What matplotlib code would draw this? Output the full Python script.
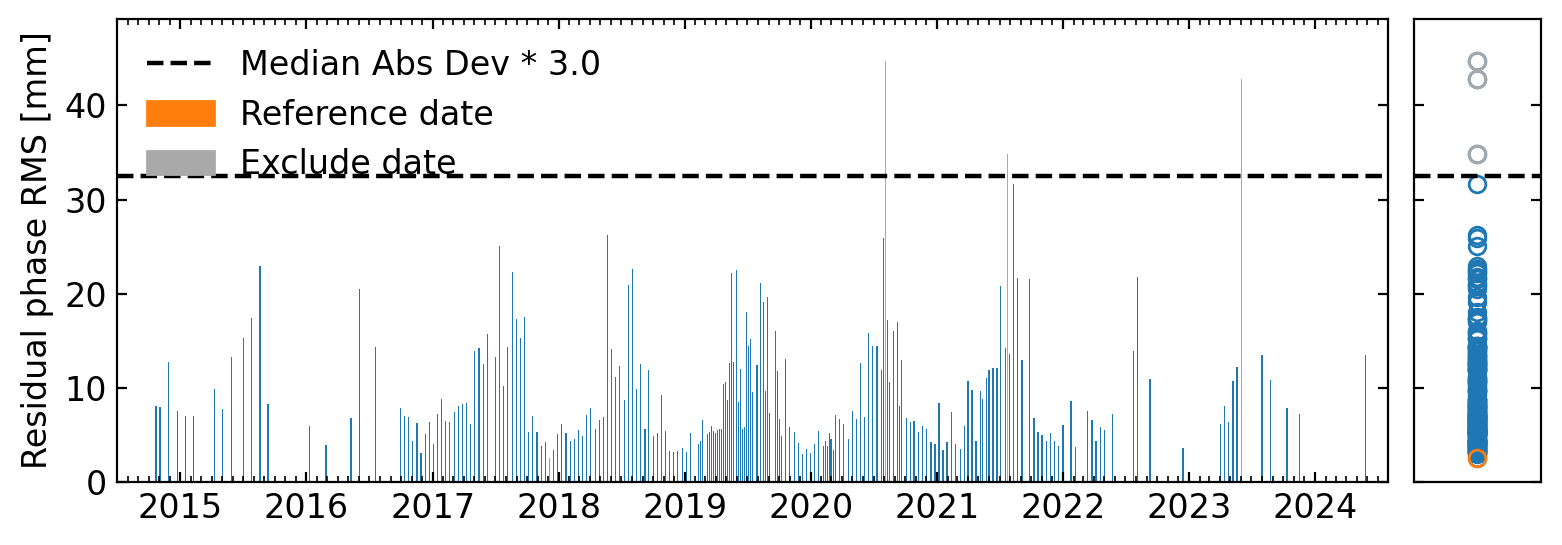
import datetime as dt
import numpy as np
import matplotlib
matplotlib.use('Agg')
import matplotlib.pyplot as plt
import matplotlib.dates as mdates
from matplotlib.lines import Line2D
from matplotlib.patches import Patch
from mpl_toolkits.axes_grid1 import make_axes_locatable

# acquisition dates in decimal years
date_years = [
    2014.807, 2014.838, 2014.907, 2014.975,
    2015.040, 2015.103, 2015.269, 2015.335, 2015.404, 2015.499, 2015.565, 2015.631, 2015.694,
    2016.024, 2016.154, 2016.351, 2016.419, 2016.548, 2016.745, 2016.776, 2016.808, 2016.839,
    2016.874, 2016.906, 2016.942, 2016.974,
    2017.005, 2017.036, 2017.068, 2017.103, 2017.135, 2017.171, 2017.203, 2017.235, 2017.266,
    2017.301, 2017.333, 2017.367, 2017.401, 2017.433, 2017.496, 2017.531, 2017.563, 2017.594,
    2017.631, 2017.663, 2017.694, 2017.726, 2017.761, 2017.792, 2017.826, 2017.861, 2017.894,
    2017.925, 2017.957, 2017.992,
    2018.024, 2018.058, 2018.092, 2018.124, 2018.155, 2018.187, 2018.222, 2018.254, 2018.290,
    2018.322, 2018.354, 2018.386, 2018.421, 2018.452, 2018.484, 2018.521, 2018.552, 2018.584,
    2018.616, 2018.651, 2018.683, 2018.714, 2018.751, 2018.783, 2018.814, 2018.846, 2018.881,
    2018.913, 2018.944, 2018.981,
    2019.013, 2019.044, 2019.111, 2019.127, 2019.143, 2019.179, 2019.195, 2019.211, 2019.227,
    2019.243, 2019.259, 2019.275, 2019.290, 2019.306, 2019.322, 2019.338, 2019.357, 2019.373,
    2019.389, 2019.410, 2019.425, 2019.441, 2019.457, 2019.473, 2019.489, 2019.505, 2019.521,
    2019.537, 2019.574, 2019.603, 2019.624, 2019.640, 2019.656, 2019.671, 2019.719, 2019.735,
    2019.751, 2019.770, 2019.802, 2019.833, 2019.870, 2019.902, 2019.933, 2019.965,
    2020.000, 2020.032, 2020.063, 2020.099, 2020.115, 2020.131, 2020.147, 2020.162, 2020.178,
    2020.194, 2020.229, 2020.261, 2020.297, 2020.329, 2020.360, 2020.392, 2020.427, 2020.458,
    2020.490, 2020.526, 2020.558, 2020.574, 2020.590, 2020.606, 2020.622, 2020.656, 2020.688,
    2020.704, 2020.720, 2020.756, 2020.788, 2020.819, 2020.851, 2020.886, 2020.918, 2020.951,
    2020.985,
    2021.016, 2021.047, 2021.079, 2021.116, 2021.148, 2021.185, 2021.217, 2021.245, 2021.277,
    2021.309, 2021.343, 2021.359, 2021.393, 2021.411, 2021.443, 2021.475, 2021.506, 2021.541,
    2021.557, 2021.573, 2021.605, 2021.641, 2021.673, 2021.736, 2021.771, 2021.802, 2021.834,
    2021.870, 2021.902, 2021.934, 2021.965,
    2022.000, 2022.063, 2022.100, 2022.195, 2022.230, 2022.262, 2022.298, 2022.330, 2022.394,
    2022.560, 2022.592, 2022.690, 2022.952,
    2023.251, 2023.282, 2023.314, 2023.349, 2023.381, 2023.415, 2023.579, 2023.648, 2023.778,
    2023.878,
    2024.402,
]

# residual phase RMS [mm]
rms = [
    8.06, 7.95, 12.72, 7.53,
    7.0, 7.0, 9.86, 7.74, 13.25, 15.26, 17.4, 22.9, 8.27,
    5.94, 3.92, 6.78, 20.46, 14.3, 7.84, 7.0, 6.9, 4.35,
    6.25, 3.07, 5.09, 6.36,
    4.03, 7.2, 8.8, 6.47, 6.36, 7.42, 8.06, 8.27, 8.37,
    6.15, 13.9, 14.2, 12.5, 15.7, 13.25, 25.1, 10.2, 14.3,
    22.3, 17.3, 15.3, 17.5, 5.3, 7.0, 5.3, 3.8, 4.24,
    2.54, 3.39, 5.09,
    6.15, 5.19, 4.35, 4.56, 5.51, 4.88, 7.1, 7.84, 5.62,
    6.57, 6.9, 26.2, 14.1, 11.13, 12.3, 8.7, 20.9, 22.6,
    9.86, 12.5, 5.62, 11.87, 4.88, 5.19, 9.22, 5.4, 3.29,
    3.18, 3.29, 3.6,
    3.18, 5.19, 4.03, 4.35, 6.57, 5.09, 5.3, 5.94, 5.4,
    5.19, 5.51, 5.62, 5.62, 10.39, 10.6, 8.7, 12.6, 22.15,
    12.72, 22.5, 8.5, 12.0, 5.62, 5.83, 18.1, 14.4, 15.2,
    9.54, 12.4, 21.1, 19.1, 9.65, 19.7, 7.31, 16.0, 11.77,
    6.68, 4.88, 13.1, 5.83, 5.3, 4.13, 2.97, 3.5,
    3.07, 4.03, 5.4, 3.82, 4.35, 3.82, 5.19, 4.56, 3.39,
    7.1, 6.68, 6.15, 4.56, 7.53, 6.68, 12.6, 6.9, 15.8,
    14.4, 14.4, 11.87, 25.9, 44.7, 17.2, 10.6, 16.0, 16.96,
    8.06, 12.93, 6.78, 6.36, 6.47, 5.3, 5.94, 5.62, 4.24,
    4.03,
    8.37, 3.39, 4.24, 7.42, 4.03, 3.5, 5.94, 10.7, 9.75,
    4.35, 9.65, 8.8, 11.0, 11.87, 12.1, 12.1, 20.8, 14.2,
    34.8, 13.57, 31.6, 21.7, 12.93, 21.6, 6.78, 5.3, 4.98,
    4.35, 5.19, 4.35, 3.82,
    6.04, 8.59, 3.71, 7.53, 6.57, 4.35, 5.83, 5.51, 7.2,
    13.9, 21.8, 10.9, 3.6,
    6.15, 8.06, 6.36, 10.7, 12.2, 42.8, 13.46, 10.8, 7.84,
    7.2,
    13.46,
]

cutoff = 3.0
rms_threshold = 32.5
font_size = 12


def year2date(t):
    y = int(t)
    t0 = dt.datetime(y, 1, 1)
    t1 = dt.datetime(y + 1, 1, 1)
    return t0 + (t1 - t0) * (t - y)


dates = np.array([year2date(t) for t in date_years])
rms = np.array(rms)
bar_width = 4  # days

ref_idx = np.argmin(rms)
ex_idx = rms > rms_threshold

fig = plt.figure(figsize=(7.81, 2.725), dpi=200)
# box holds main axes + pad + side axes
ax = fig.add_axes([0.0749, 0.1156, 0.9117, 0.8495])

ax.bar(dates, rms, bar_width, color='C0', linewidth=0)
ax.bar(dates[ref_idx], rms[ref_idx], bar_width, color='C1', linewidth=0)
ax.bar(dates[ex_idx], rms[ex_idx], bar_width, color='darkgray', linewidth=0)

xmin = dt.datetime(2014, 7, 1)
xmax = dt.datetime(2024, 8, 1)
ax.plot([xmin, xmax], [rms_threshold, rms_threshold], '--k', lw=1.6)
ax.set_xlim(xmin, xmax)
ax.set_ylim(0, rms.max() * 1.1)

ax.xaxis.set_major_locator(mdates.YearLocator())
ax.xaxis.set_minor_locator(mdates.MonthLocator())
ax.xaxis.set_major_formatter(mdates.DateFormatter('%Y'))
ax.set_ylabel('Residual phase RMS [mm]', fontsize=font_size)
ax.tick_params(which='both', direction='in', labelsize=font_size,
               bottom=True, top=True, left=True, right=True)

# side plot with circles
divider = make_axes_locatable(ax)
ax2 = divider.append_axes("right", "10%", pad="2%")
ax2.plot(np.ones(rms.shape) * 0.5, rms, 'o', mfc='none', color='C0')
ax2.plot(0.5, rms[ref_idx], 'o', mfc='none', color='C1')
ax2.plot(np.ones(rms.shape)[ex_idx] * 0.5, rms[ex_idx], 'o', mfc='none', color='darkgray')
ax2.plot([0, 1], [rms_threshold, rms_threshold], '--k', lw=1.6)
ax2.set_ylim(ax.get_ylim())
ax2.set_xlim(0, 1)
ax2.tick_params(which='both', direction='in', labelsize=font_size,
                bottom=True, top=True, left=True, right=True)
ax2.set_xticks([])
ax2.set_yticklabels([])

handles = [Line2D([], [], color='k', linestyle='--', lw=1.6),
           Patch(color='C1'),
           Patch(color='darkgray')]
labels = ['Median Abs Dev * {}'.format(cutoff), 'Reference date', 'Exclude date']
ax.legend(handles, labels, loc='upper left', frameon=False, fontsize=font_size)

fig.savefig('out.png', dpi=200)
